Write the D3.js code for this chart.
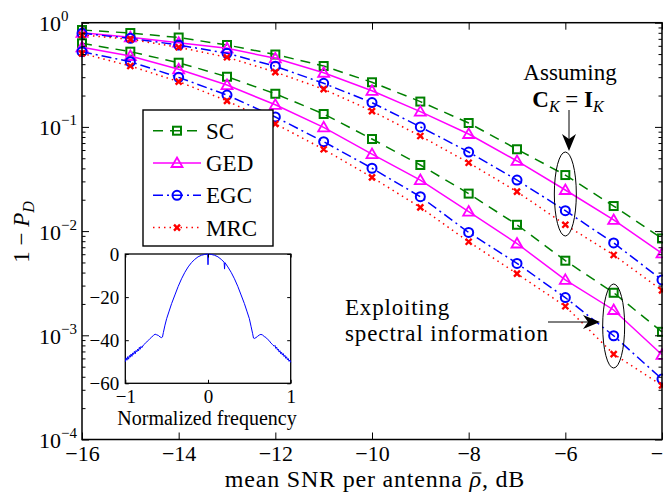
<!DOCTYPE html>
<html>
<head>
<meta charset="utf-8">
<script src="https://cdn.jsdelivr.net/npm/d3@7"></script>
<style>
  body { margin: 0; background: #fff; }
  svg { display: block; font-family: "Liberation Serif", serif; }
</style>
</head>
<body>
<div id="chart"></div>
<script>
// Mean SNR per antenna (dB)
const snr = [-16, -15, -14, -13, -12, -11, -10, -9, -8, -7, -6, -5, -4];

// Assuming C_K = I_K
const scIdeal  = [0.851, 0.796, 0.721, 0.611, 0.495, 0.384, 0.268, 0.175, 0.109, 0.061, 0.0345, 0.0174, 0.0085];
const gedIdeal = [0.800, 0.724, 0.643, 0.568, 0.455, 0.331, 0.222, 0.140, 0.0855, 0.0471, 0.0248, 0.0128, 0.0061];
const egcIdeal = [0.791, 0.708, 0.611, 0.508, 0.382, 0.262, 0.171, 0.100, 0.0574, 0.0309, 0.0157, 0.0077, 0.0034];
const mrcIdeal = [0.762, 0.693, 0.581, 0.466, 0.336, 0.230, 0.142, 0.0818, 0.0453, 0.0239, 0.0115, 0.0059, 0.0027];

// Exploiting spectral information
const scSpec  = [0.634, 0.527, 0.413, 0.303, 0.208, 0.133, 0.0765, 0.0431, 0.0229, 0.0115, 0.0052, 0.00256, 0.00108];
const gedSpec = [0.581, 0.479, 0.357, 0.252, 0.163, 0.0991, 0.0549, 0.0309, 0.0154, 0.0076, 0.0034, 0.00175, 0.00065];
const egcSpec = [0.527, 0.422, 0.299, 0.202, 0.1245, 0.0721, 0.0401, 0.0214, 0.0097, 0.0049, 0.0023, 0.00099, 0.00038];
const mrcSpec = [0.508, 0.384, 0.272, 0.178, 0.107, 0.061, 0.0328, 0.0169, 0.0079, 0.0039, 0.0019, 0.00066, 0.00033];

// Tick labels
const xTicks = [-16, -14, -12, -10, -8, -6, -4];
const yExponents = [0, -1, -2, -3, -4];
const legendNames = ["SC", "GED", "EGC", "MRC"];

// Inset: spectrum (dB) vs normalized frequency
const insetFreq = [-1.00, -0.99, -0.98, -0.97, -0.96, -0.95, -0.94, -0.93, -0.92, -0.91, -0.90, -0.89, -0.88, -0.87, -0.86, -0.85,
  -0.84, -0.83, -0.82, -0.81, -0.80, -0.78, -0.76, -0.74, -0.72, -0.70,
  -0.68, -0.66, -0.64, -0.62, -0.60, -0.58, -0.56, -0.55, -0.54, -0.52, -0.50, -0.47, -0.44, -0.40, -0.36, -0.32, -0.28, -0.24,
  -0.20, -0.16, -0.12, -0.08, -0.04, -0.005, 0, 0.005, 0.04, 0.08, 0.12, 0.16, 0.195, 0.2, 0.205, 0.24, 0.28, 0.32, 0.36, 0.40,
  0.44, 0.47, 0.50, 0.52, 0.54, 0.55, 0.56, 0.58, 0.60, 0.62, 0.64, 0.66, 0.68, 0.70, 0.72, 0.74, 0.76, 0.78, 0.80, 0.81, 0.82, 0.83, 0.84,
  0.85, 0.86, 0.87, 0.88, 0.89, 0.90, 0.91, 0.92, 0.93, 0.94, 0.95, 0.96, 0.97, 0.98, 0.99, 1.00];
const insetDb = [-50, -48.2, -49.3, -47.6, -48.8, -47.1, -47.9, -46.4, -47.5, -45.9, -46.6, -45.2, -46.3, -44.8, -45.4, -44.1,
  -45, -43.3, -44.2, -42.9, -43.5, -42.2, -41.5, -40.8, -40, -39.2,
  -38.5, -37.8, -37.2, -37.5, -37.8, -38.5, -38.8, -38.5, -36.5, -33, -30, -26.5, -23, -19, -15, -11.5, -8.5, -6,
  -4, -2.5, -1.3, -0.6, -0.2, 0, -5, 0, -0.2, -0.6, -1.3, -2.5, -3.8, -7, -4, -6, -8.5, -11.5, -15, -19,
  -23, -26.5, -30, -33.5, -37, -39, -39.2, -38.8, -38.2, -37.6, -37.3, -37.6, -38.3, -38.7, -39.6, -40.2, -41.3, -42, -42.8, -42.4, -43.8, -43.2, -44.6,
  -44.1, -45.5, -44.9, -46.3, -45.6, -46.9, -46.2, -47.6, -47, -48.4, -47.7, -49.1, -48.5, -49.8, -49.2, -50.3];
const insetXTicks = [-1, 0, 1];
const insetYTicks = [0, -20, -40, -60];

const W = 663, H = 495;
const svg = d3.select("#chart").append("svg")
    .attr("width", W).attr("height", H);
svg.append("rect").attr("width", W).attr("height", H).attr("fill", "#fff");

// Scales
const x = d3.scaleLinear().domain([-16, -4]).range([82, 662]);
const y = d3.scaleLog().domain([1e-4, 1]).range([439.5, 22.7]);

// Series styles
const styles = [
    { color: "#008000", dash: "10,7", marker: "square" },
    { color: "#ff00ff", dash: null, marker: "triangle" },
    { color: "#0000ff", dash: "10,4,2,4", marker: "circle" },
    { color: "#ff0000", dash: "1.5,4", marker: "cross" }
];
const series = [
    { vals: scIdeal, s: 0 }, { vals: gedIdeal, s: 1 }, { vals: egcIdeal, s: 2 }, { vals: mrcIdeal, s: 3 },
    { vals: scSpec, s: 0 }, { vals: gedSpec, s: 1 }, { vals: egcSpec, s: 2 }, { vals: mrcSpec, s: 3 }
];

function drawMarker(g, type, cx, cy, color) {
    if (type === "square") {
        g.append("rect").attr("x", cx - 4).attr("y", cy - 4).attr("width", 8).attr("height", 8)
            .attr("fill", "none").attr("stroke", color).attr("stroke-width", 2);
    } else if (type === "triangle") {
        g.append("path").attr("d", `M${cx},${cy - 5.5}L${cx + 5.5},${cy + 4}L${cx - 5.5},${cy + 4}Z`)
            .attr("fill", "none").attr("stroke", color).attr("stroke-width", 1.8);
    } else if (type === "circle") {
        g.append("circle").attr("cx", cx).attr("cy", cy).attr("r", 4.5)
            .attr("fill", "none").attr("stroke", color).attr("stroke-width", 2);
    } else {
        g.append("path").attr("d", `M${cx - 3},${cy - 3}L${cx + 3},${cy + 3}M${cx - 3},${cy + 3}L${cx + 3},${cy - 3}`)
            .attr("fill", "none").attr("stroke", color).attr("stroke-width", 2.4);
    }
}

// Curves
const line = d3.line().x((d, i) => x(snr[i])).y(d => y(d));
const plot = svg.append("g");
series.forEach(sr => {
    const st = styles[sr.s];
    plot.append("path")
        .datum(sr.vals)
        .attr("fill", "none")
        .attr("stroke", st.color)
        .attr("stroke-width", 1.5)
        .attr("stroke-dasharray", st.dash)
        .attr("d", line);
    sr.vals.forEach((v, i) => drawMarker(plot, st.marker, x(snr[i]), y(v), st.color));
});

// Axes (ticks pointing inward, box on)
svg.append("rect").attr("x", 82).attr("y", 22.7).attr("width", 580).attr("height", 416.8)
    .attr("fill", "none").attr("stroke", "#000").attr("stroke-width", 1.5);

svg.append("g").attr("transform", "translate(0,439.5)")
    .call(d3.axisBottom(x).tickValues(xTicks).tickSize(-7).tickPadding(6).tickFormat(d => d3.format("d")(d).replace("-", "−")))
    .call(g => g.select(".domain").remove())
    .call(g => g.selectAll("text").attr("fill", "#000").style("font-size", "22px").style("font-family", "Liberation Serif"));
svg.append("g").attr("transform", "translate(0,22.7)")
    .call(d3.axisTop(x).tickValues(xTicks).tickSize(-7).tickFormat(""))
    .call(g => g.select(".domain").remove());

const minorY = [];
for (let e = -4; e < 0; e++) for (let m = 2; m <= 9; m++) minorY.push(m * Math.pow(10, e));
const majorY = yExponents.map(e => Math.pow(10, e));
[[d3.axisLeft, 82], [d3.axisRight, 662]].forEach(([ax, pos]) => {
    svg.append("g").attr("transform", `translate(${pos},0)`)
        .call(ax(y).tickValues(majorY).tickSize(-7).tickFormat(""))
        .call(g => g.select(".domain").remove());
    svg.append("g").attr("transform", `translate(${pos},0)`)
        .call(ax(y).tickValues(minorY).tickSize(-3.5).tickFormat(""))
        .call(g => g.select(".domain").remove());
});

// Y tick labels 10^e
yExponents.forEach(e => {
    const t = svg.append("text").attr("x", 39).attr("y", y(Math.pow(10, e)) + 8.5)
        .style("font-size", "22px").text("10");
    t.append("tspan").attr("dy", -10).style("font-size", "15px").text(String(e).replace("-", "−"));
});

// Axis labels
const xl = svg.append("text").attr("x", 375).attr("y", 487).attr("text-anchor", "middle")
    .style("font-size", "24px").style("letter-spacing", "0.8px").text("mean SNR per antenna ");
xl.append("tspan").style("font-style", "italic").text("ρ");
xl.append("tspan").text(", dB");
// bar over rho
const rho = xl.node().getExtentOfChar(21);
svg.append("line")
    .attr("x1", rho.x + 2.5).attr("x2", rho.x + rho.width - 0.5)
    .attr("y1", 473).attr("y2", 473)
    .attr("stroke", "#000").attr("stroke-width", 1.1);

const yl = svg.append("text").attr("transform", "translate(29,232) rotate(-90)").attr("text-anchor", "middle")
    .style("font-size", "23px").text("1 − ");
yl.append("tspan").style("font-style", "italic").text("P");
yl.append("tspan").attr("dy", 5).style("font-style", "italic").style("font-size", "16px").text("D");

// Legend
const lg = svg.append("g");
lg.append("rect").attr("x", 143).attr("y", 110).attr("width", 130).attr("height", 136)
    .attr("fill", "#fff").attr("stroke", "#000").attr("stroke-width", 1.4);
legendNames.forEach((name, i) => {
    const st = styles[i];
    const ly = 130.7 + i * 32.3;
    lg.append("line").attr("x1", 153).attr("x2", 201).attr("y1", ly).attr("y2", ly)
        .attr("stroke", st.color).attr("stroke-width", 1.5).attr("stroke-dasharray", st.dash);
    drawMarker(lg, st.marker, 177, ly, st.color);
    lg.append("text").attr("x", 206).attr("y", ly + 8).style("font-size", "23px").text(name);
});

// Inset spectrum
const ix = d3.scaleLinear().domain([-1, 1]).range([125.3, 290.7]);
const iy = d3.scaleLinear().domain([-60, 0]).range([383.3, 254]);
const inset = svg.append("g");
inset.append("rect").attr("x", 125.3).attr("y", 254).attr("width", 165.4).attr("height", 129.3)
    .attr("fill", "#fff").attr("stroke", "#000").attr("stroke-width", 1.3);
inset.append("path")
    .datum(insetFreq)
    .attr("fill", "none").attr("stroke", "#0000ff").attr("stroke-width", 1)
    .attr("d", d3.line().x(d => ix(d)).y((d, i) => iy(insetDb[i])));
inset.append("g").attr("transform", "translate(0,383.3)")
    .call(d3.axisBottom(ix).tickValues(insetXTicks).tickSize(-3.5).tickPadding(6).tickFormat(d => String(d).replace("-", "−")))
    .call(g => g.select(".domain").remove())
    .call(g => g.selectAll("text").attr("fill", "#000").style("font-size", "19px").style("font-family", "Liberation Serif"));
inset.append("g").attr("transform", "translate(0,254)")
    .call(d3.axisTop(ix).tickValues(insetXTicks).tickSize(-3.5).tickFormat(""))
    .call(g => g.select(".domain").remove());
inset.append("g").attr("transform", "translate(125.3,0)")
    .call(d3.axisLeft(iy).tickValues(insetYTicks).tickSize(-3.5).tickPadding(6).tickFormat(d => String(d).replace("-", "−")))
    .call(g => g.select(".domain").remove())
    .call(g => g.selectAll("text").attr("fill", "#000").style("font-size", "19px").style("font-family", "Liberation Serif"));
inset.append("g").attr("transform", "translate(290.7,0)")
    .call(d3.axisRight(iy).tickValues(insetYTicks).tickSize(-3.5).tickFormat(""))
    .call(g => g.select(".domain").remove());
inset.append("text").attr("x", 207).attr("y", 425).attr("text-anchor", "middle")
    .style("font-size", "20px").text("Normalized frequency");

// Annotations
const ann = svg.append("g");
ann.append("text").attr("x", 570).attr("y", 80).attr("text-anchor", "middle").style("font-size", "23px").text("Assuming");
const ck = ann.append("text").attr("x", 568).attr("y", 107).attr("text-anchor", "middle").style("font-size", "23px");
ck.append("tspan").style("font-weight", "bold").text("C");
ck.append("tspan").attr("dy", 5).style("font-style", "italic").style("font-size", "16px").text("K");
ck.append("tspan").attr("dy", -5).text(" = ");
ck.append("tspan").style("font-weight", "bold").text("I");
ck.append("tspan").attr("dy", 5).style("font-style", "italic").style("font-size", "16px").text("K");

ann.append("text").attr("x", 345).attr("y", 315).style("font-size", "23px").style("letter-spacing", "0.8px").text("Exploiting");
ann.append("text").attr("x", 345).attr("y", 341).style("font-size", "23px").style("letter-spacing", "0.9px").text("spectral information");

// Arrows
ann.append("line").attr("x1", 569).attr("y1", 110).attr("x2", 569).attr("y2", 140).attr("stroke", "#000").attr("stroke-width", 1);
ann.append("path").attr("d", "M569,151L562,134L569,139L576,134Z").attr("fill", "#000");
ann.append("line").attr("x1", 548).attr("y1", 322).attr("x2", 590).attr("y2", 322).attr("stroke", "#000").attr("stroke-width", 1);
ann.append("path").attr("d", "M600,322L583,315L588,322L583,329Z").attr("fill", "#000");

// Ellipses around marker groups
ann.append("ellipse").attr("cx", x(-6)).attr("cy", 194).attr("rx", 11).attr("ry", 42)
    .attr("fill", "none").attr("stroke", "#000").attr("stroke-width", 1);
ann.append("ellipse").attr("cx", x(-5)).attr("cy", 326).attr("rx", 11).attr("ry", 42)
    .attr("fill", "none").attr("stroke", "#000").attr("stroke-width", 1);
</script>
</body>
</html>
